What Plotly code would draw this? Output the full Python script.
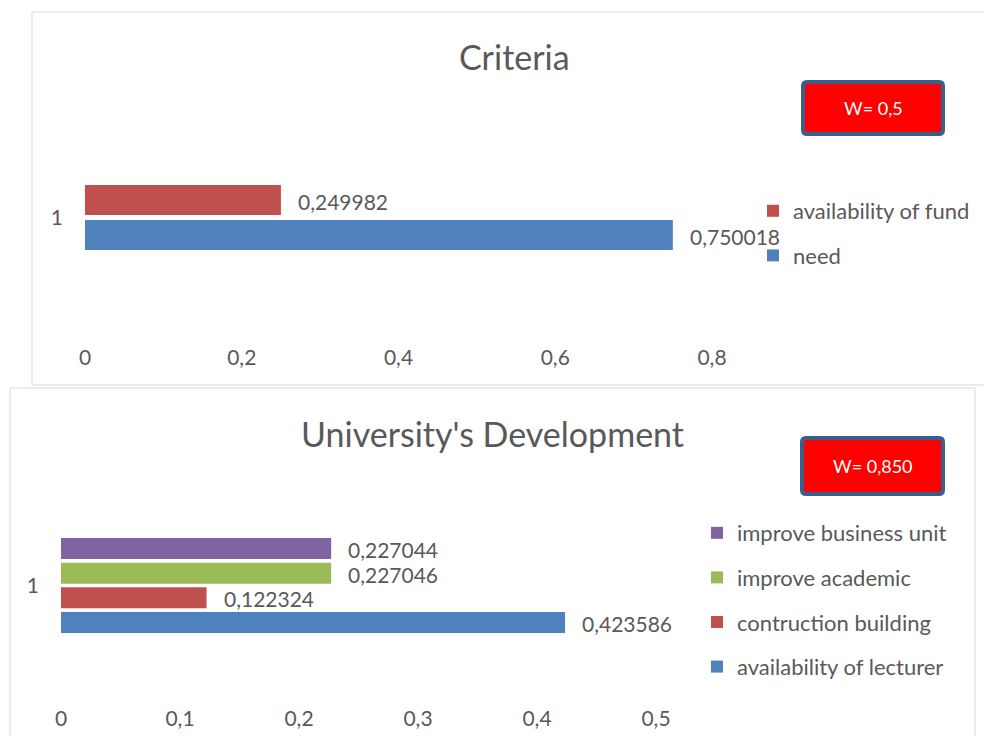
import plotly.graph_objects as go

# ---- data -------------------------------------------------------------
category = ["1"]

criteria_names = ["need", "availability of fund"]
criteria_values = [0.750018, 0.249982]
criteria_colors = ["#4F81BD", "#C0504D"]
criteria_ticks = [0, 0.2, 0.4, 0.6, 0.8]
criteria_weight = "W= 0,5"

dev_names = ["availability of lecturer", "contruction building",
             "improve academic", "improve business unit"]
dev_values = [0.423586, 0.122324, 0.227046, 0.227044]
dev_colors = ["#4F81BD", "#C0504D", "#9BBB59", "#8064A2"]
dev_ticks = [0, 0.1, 0.2, 0.3, 0.4, 0.5]
dev_weight = "W= 0,850"

# ---- page geometry (pixels) -------------------------------------------
W, H = 984, 736
FONT = "Lato"
GREY = "#595959"


def fx(px):
    return px / W


def fy(py):
    return 1 - py / H


def comma(v):
    return f"{v:.6f}".replace(".", ",")


def rounded_box(x0, x1, y0, y1, r):
    """SVG path (paper coords) for a rectangle with softly rounded corners."""
    X0, X1, Xa, Xb = fx(x0), fx(x1), fx(x0 + r), fx(x1 - r)
    Y0, Y1, Ya, Yb = fy(y0), fy(y1), fy(y0 + r), fy(y1 - r)
    return (f"M{Xa},{Y0} L{Xb},{Y0} Q{X1},{Y0} {X1},{Ya} "
            f"L{X1},{Yb} Q{X1},{Y1} {Xb},{Y1} "
            f"L{Xa},{Y1} Q{X0},{Y1} {X0},{Yb} "
            f"L{X0},{Ya} Q{X0},{Y0} {Xa},{Y0} Z")


fig = go.Figure()

panels = [
    dict(names=criteria_names, values=criteria_values, colors=criteria_colors,
         ticks=criteria_ticks, rng=[0, 0.8], xa="x", ya="y", legend="legend",
         plot=(85, 712, 92, 343), slot_px=35, bar_px=30),
    dict(names=dev_names, values=dev_values, colors=dev_colors,
         ticks=dev_ticks, rng=[0, 0.5], xa="x2", ya="y2", legend="legend2",
         plot=(61, 656, 467, 704), slot_px=24.7, bar_px=21),
]

annotations = []
for p in panels:
    x0, x1, y0, y1 = p["plot"]
    h = y1 - y0
    slot = p["slot_px"] / h
    bar = p["bar_px"] / h
    n = len(p["values"])
    start = -n * slot / 2
    # first series sits at the bottom of the group; traces are added
    # top-first so the legend lists them in the same vertical order
    for i in reversed(range(n)):
        name, v, c = p["names"][i], p["values"][i], p["colors"][i]
        off = start + i * slot + (slot - bar) / 2
        fig.add_trace(go.Bar(
            x=[v], y=category, orientation="h", name=name,
            marker=dict(color=c, line=dict(width=0)),
            width=bar, offset=off,
            xaxis=p["xa"], yaxis=p["ya"], legend=p["legend"],
            legendgroup=p["legend"] + name,
            hoverinfo="skip",
        ))
        annotations.append(dict(
            x=v, y=off + bar / 2, xref=p["xa"], yref=p["ya"],
            text=comma(v), showarrow=False, xanchor="left", yanchor="middle",
            xshift=15, yshift=-1, font=dict(family=FONT, size=21, color=GREY),
        ))

axis_common = dict(showgrid=False, zeroline=False, showline=False, ticks="",
                   automargin=False,
                   tickfont=dict(family=FONT, size=21, color=GREY))

x0, x1, y0, y1 = panels[0]["plot"]
fig.update_layout(
    xaxis=dict(domain=[fx(x0), fx(x1)], range=panels[0]["rng"],
               tickvals=criteria_ticks, anchor="y", **axis_common),
    yaxis=dict(domain=[fy(y1), fy(y0)], type="category", range=[-0.5, 0.5],
               anchor="x", ticklabelstandoff=21, **axis_common),
)
x0, x1, y0, y1 = panels[1]["plot"]
fig.update_layout(
    xaxis2=dict(domain=[fx(x0), fx(x1)], range=panels[1]["rng"],
                tickvals=dev_ticks, anchor="y2", **axis_common),
    yaxis2=dict(domain=[fy(y1), fy(y0)], type="category", range=[-0.5, 0.5],
                anchor="x2", ticklabelstandoff=21, **axis_common),
)

# titles
for (tx, ty), title in [((514, 56), "Criteria"),
                        ((492, 433), "University's Development")]:
    annotations.append(dict(x=fx(tx), y=fy(ty), xref="paper", yref="paper",
                            xanchor="center", yanchor="middle",
                            text=title, showarrow=False,
                            font=dict(family=FONT, size=34, color=GREY)))

shapes = [
    # chart frames
    dict(type="rect", xref="paper", yref="paper", x0=fx(32), x1=fx(992),
         y0=fy(385), y1=fy(12), line=dict(color="#D9D9D9", width=1)),
    dict(type="rect", xref="paper", yref="paper", x0=fx(10), x1=fx(975),
         y0=fy(745), y1=fy(388), line=dict(color="#D9D9D9", width=1)),
]

# weight boxes
for (bx0, bx1, by0, by1), label in [((803, 943, 82, 134), criteria_weight),
                                     ((802, 943, 438, 494), dev_weight)]:
    shapes.append(dict(type="path", xref="paper", yref="paper",
                       path=rounded_box(bx0, bx1, by0, by1, 4),
                       fillcolor="#FF0000", line=dict(color="#3B5E8C", width=4)))
    annotations.append(dict(x=fx((bx0 + bx1) / 2), y=fy((by0 + by1) / 2),
                            xref="paper", yref="paper", text=label,
                            xanchor="center", yanchor="middle",
                            showarrow=False,
                            font=dict(family=FONT, size=18, color="white")))

legend_common = dict(xanchor="left", yanchor="top", traceorder="grouped",
                     tracegroupgap=13, bgcolor="rgba(0,0,0,0)",
                     font=dict(family=FONT, size=22, color=GREY))

fig.update_layout(
    width=W, height=H, margin=dict(l=0, r=0, t=0, b=0, autoexpand=False),
    paper_bgcolor="white", plot_bgcolor="white",
    separators=",.", barmode="overlay", showlegend=True,
    legend=dict(x=fx(753), y=fy(190), **legend_common),
    legend2=dict(x=fx(697), y=fy(512), **legend_common),
    annotations=annotations, shapes=shapes,
)

fig.write_html("out.html")
